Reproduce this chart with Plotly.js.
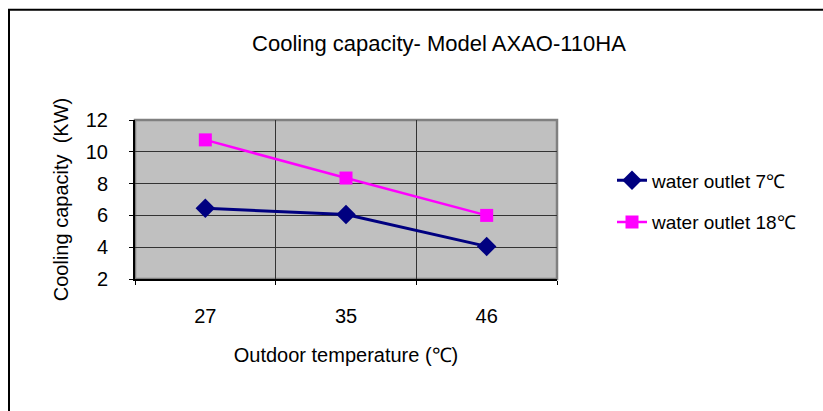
<!DOCTYPE html>
<html>
<head>
<meta charset="utf-8">
<script src="https://cdn.plot.ly/plotly-3.0.1.min.js"></script>
<style>
html,body{margin:0;padding:0;background:#fff;}
#chart{width:823px;height:411px;}
</style>
</head>
<body>
<div id="chart"></div>
<script>
const categories = ['27', '35', '46'];
const outlet7 = [6.45, 6.05, 4.05];
const outlet18 = [10.75, 8.35, 6.0];
const seriesNames = ['water outlet 7\u2103', 'water outlet 18\u2103'];
const yTicks = [2, 4, 6, 8, 10, 12];

const FONT = 'Liberation Sans, Arial, Helvetica, sans-serif';

const traces = [
  {
    x: categories, y: outlet7, name: seriesNames[0], type: 'scatter', mode: 'lines+markers',
    line: {color: '#000080', width: 3},
    marker: {symbol: 'diamond', size: 15, color: '#000080'},
    legendgroup: 'a'
  },
  {
    x: categories, y: outlet18, name: seriesNames[1], type: 'scatter', mode: 'lines+markers',
    line: {color: '#FF00FF', width: 2.5},
    marker: {symbol: 'square', size: 13, color: '#FF00FF'},
    legendgroup: 'b'
  }
];

const L = 135, R = 557, T = 119.5, B = 279;
const W = R - L, H = B - T;
function px(x){ return (x - L) / W; }
function py(y){ return (B - y) / H; }

const layout = {
  width: 823, height: 411,
  margin: {l: L, r: 823 - R, t: T, b: 411 - B, pad: 0},
  paper_bgcolor: '#ffffff',
  plot_bgcolor: '#c0c0c0',
  font: {family: FONT, size: 19, color: '#000'},
  showlegend: true,
  title: {
    text: 'Cooling capacity- Model AXAO-110HA',
    font: {family: FONT, size: 22, color: '#000'},
    xref: 'container', x: 439 / 823, xanchor: 'center',
    yref: 'container', y: 1 - 43 / 411, yanchor: 'middle'
  },
  xaxis: {
    type: 'category',
    range: [-0.5, 2.5],
    tickson: 'boundaries',
    showgrid: true, gridcolor: '#333333', gridwidth: 1,
    showline: true, linecolor: '#000', linewidth: 2,
    ticks: 'outside', ticklen: 4, tickcolor: '#000',
    ticklabelstandoff: 18,
    tickfont: {family: FONT, size: 20, color: '#000'},
    title: {text: 'Outdoor temperature (\u2103)', font: {family: FONT, size: 20, color: '#000'}, standoff: 22},
    zeroline: false, fixedrange: true
  },
  yaxis: {
    range: [2, 12],
    tickvals: yTicks,
    showgrid: true, gridcolor: '#333333', gridwidth: 1,
    showline: true, linecolor: '#000', linewidth: 2,
    ticks: 'outside', ticklen: 4, tickcolor: '#000',
    ticklabelstandoff: 17,
    tickfont: {family: FONT, size: 20, color: '#000'},
    title: {text: 'Cooling capacity  (KW)', font: {family: FONT, size: 20, color: '#000'}, standoff: 12},
    zeroline: false, fixedrange: true
  },
  legend: {
    x: px(612), xanchor: 'left',
    y: py(161), yanchor: 'top',
    bgcolor: 'rgba(0,0,0,0)',
    font: {family: FONT, size: 19, color: '#000'},
    traceorder: 'grouped',
    tracegroupgap: 14
  },
  shapes: [
    {type: 'rect', xref: 'paper', yref: 'paper', x0: 0, x1: 1, y0: 0, y1: 1,
     line: {color: '#808080', width: 2.5}, layer: 'below'},
    {type: 'rect', xref: 'paper', yref: 'paper', x0: px(9), x1: px(880), y0: py(9), y1: py(460),
     line: {color: '#000', width: 2}, layer: 'above'}
  ]
};

Plotly.newPlot('chart', traces, layout, {displayModeBar: false, staticPlot: true});
</script>
</body>
</html>
